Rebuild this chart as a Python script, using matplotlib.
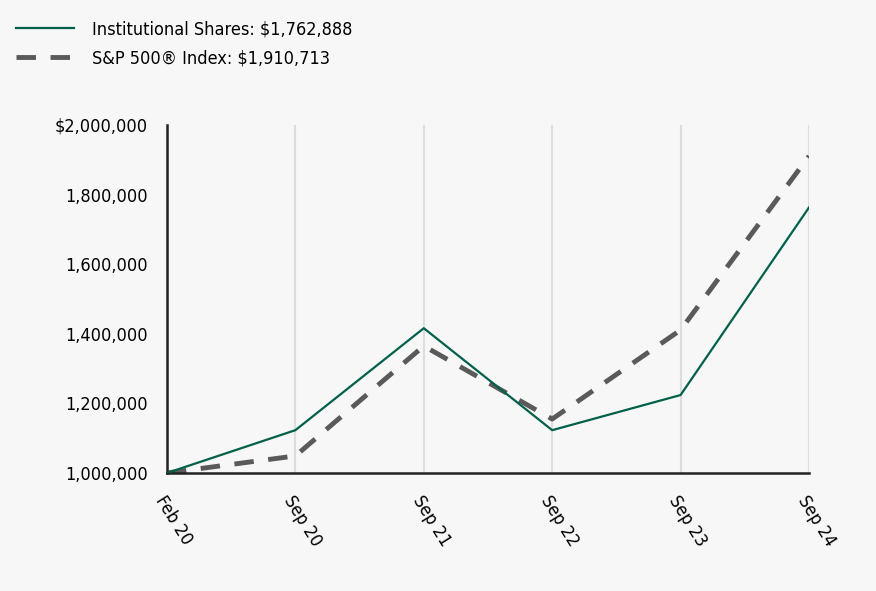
import matplotlib.pyplot as plt
import matplotlib.ticker as mticker
from matplotlib import font_manager

names = {f.name for f in font_manager.fontManager.ttflist}
fam = 'Liberation Sans Narrow' if 'Liberation Sans Narrow' in names else 'DejaVu Sans'
plt.rcParams['font.family'] = [fam, 'DejaVu Sans']
plt.rcParams['font.stretch'] = 'condensed'

# data
dates = ["Feb 20", "Sep 20", "Sep 21", "Sep 22", "Sep 23", "Sep 24"]
inst = [1000000, 1123000, 1416000, 1123000, 1224000, 1762888]
sp500 = [1000000, 1049000, 1365000, 1155000, 1411000, 1910713]

bg = "#f7f7f7"
fig = plt.figure(figsize=(8.76, 5.91), dpi=100, facecolor=bg)
ax = fig.add_axes([0.1906, 0.1997, 0.7329, 0.5888], facecolor=bg)

x = range(len(dates))
ax.plot(x, inst, color="#00604a", lw=1.6, label="Institutional Shares: $1,762,888", zorder=3)
ax.plot(x, sp500, color="#5a5a5a", lw=3.5, ls=(0, (4, 3)),
        label="S&P 500\u00ae Index: $1,910,713", zorder=2)

ax.set_xlim(0, len(dates) - 1)
ax.set_ylim(1000000, 2000000)
ax.set_xticks(list(x))
ax.set_xticklabels(dates, rotation=-58, ha="left", va="top", rotation_mode="anchor", fontsize=13)
ax.set_yticks([1000000, 1200000, 1400000, 1600000, 1800000, 2000000])
ax.yaxis.set_major_formatter(mticker.FuncFormatter(
    lambda v, p: ("$" if v == 2000000 else "") + f"{int(v):,}"))
ax.tick_params(axis="y", labelsize=13, length=0, pad=14)
ax.tick_params(axis="x", length=0, pad=14)
ax.grid(axis="x", color="#dddddd", lw=1.5)
for s in ["top", "right"]:
    ax.spines[s].set_visible(False)
for s in ["left", "bottom"]:
    ax.spines[s].set_color("#222222")
    ax.spines[s].set_linewidth(1.8)

fig.legend(loc="upper left", bbox_to_anchor=(0.0, 0.993), frameon=False, fontsize=13,
           handlelength=3.2, handletextpad=1.0, labelspacing=0.6)

fig.savefig("out.png", dpi=100, facecolor=bg)
